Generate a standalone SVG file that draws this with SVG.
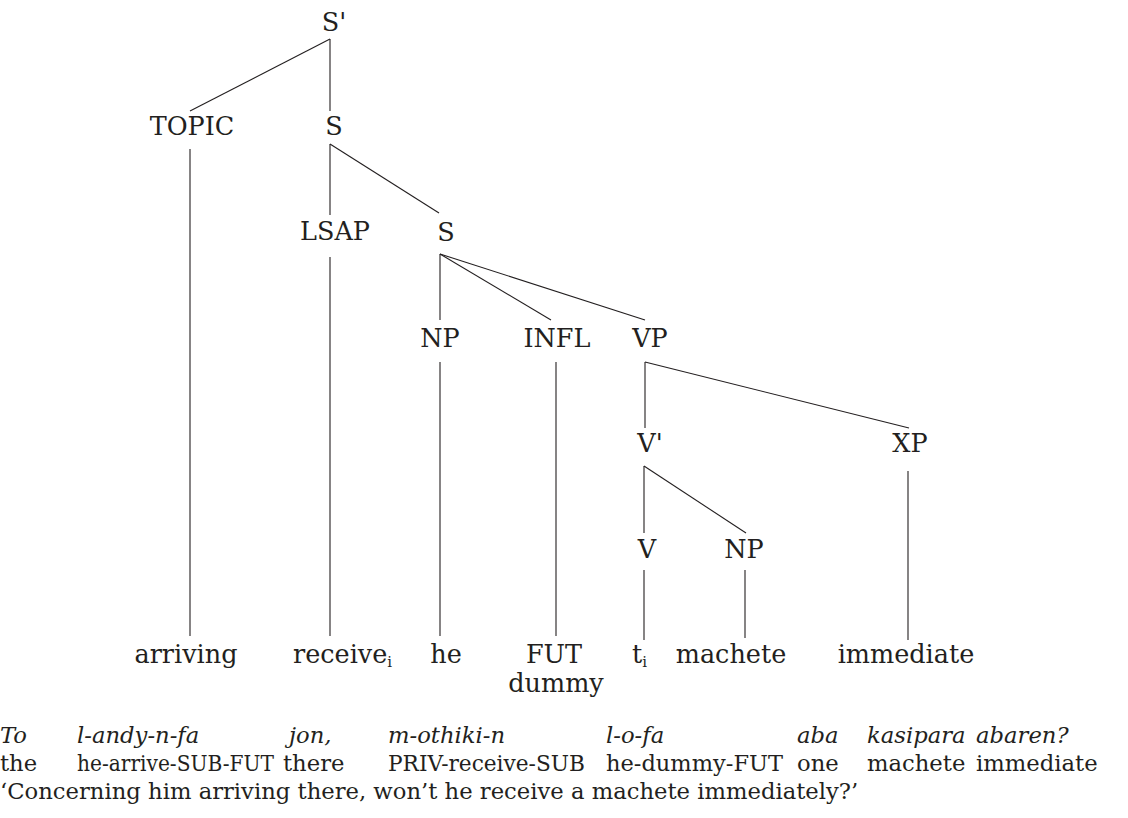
<svg xmlns="http://www.w3.org/2000/svg" width="1128" height="818" viewBox="0 0 1128 818">
<style>
.t{font-family:"DejaVu Serif","Liberation Serif",serif;font-size:25.5px;fill:#231f20;text-anchor:middle}
.l{font-family:"DejaVu Serif","Liberation Serif",serif;font-size:25.5px;fill:#231f20}
.g{font-family:"DejaVu Serif","Liberation Serif",serif;font-size:22.7px;fill:#231f20}
.i{font-style:italic}
.sub{font-size:15px}
#edges line{stroke:#231f20;stroke-width:1.1}
</style>
<rect width="1128" height="818" fill="#fff"/>
<g id="edges">
<line x1="330" y1="39" x2="190" y2="111"/>
<line x1="330" y1="39" x2="330" y2="111"/>
<line x1="190" y1="149" x2="190" y2="636"/>
<line x1="330" y1="144" x2="330" y2="215"/>
<line x1="330" y1="144" x2="439" y2="213"/>
<line x1="330" y1="257" x2="330" y2="636"/>
<line x1="440" y1="254" x2="440" y2="320"/>
<line x1="440" y1="254" x2="551" y2="320"/>
<line x1="440" y1="254" x2="645" y2="320"/>
<line x1="440" y1="362" x2="440" y2="636"/>
<line x1="556" y1="362" x2="556" y2="636"/>
<line x1="645" y1="362" x2="645" y2="428"/>
<line x1="645" y1="362" x2="909" y2="428"/>
<line x1="644" y1="466" x2="644" y2="533"/>
<line x1="644" y1="466" x2="746" y2="533"/>
<line x1="644" y1="570" x2="644" y2="640"/>
<line x1="745" y1="570" x2="745" y2="638"/>
<line x1="908" y1="471" x2="908" y2="640"/>
</g>
<g id="n-Sbar"><text class="t" x="334" y="31">S'</text></g>
<g id="n-TOPIC"><text class="t" x="192" y="135">TOPIC</text></g>
<g id="n-S1"><text class="t" x="334" y="135">S</text></g>
<g id="n-LSAP"><text class="t" x="335" y="240">LSAP</text></g>
<g id="n-S2"><text class="t" x="446" y="241">S</text></g>
<g id="n-NP1"><text class="t" x="440" y="347">NP</text></g>
<g id="n-INFL"><text class="t" x="557" y="347">INFL</text></g>
<g id="n-VP"><text class="t" x="650" y="347">VP</text></g>
<g id="n-Vbar"><text class="t" x="650" y="452">V'</text></g>
<g id="n-XP"><text class="t" x="910" y="452">XP</text></g>
<g id="n-V"><text class="t" x="647" y="558">V</text></g>
<g id="n-NP2"><text class="t" x="744" y="558">NP</text></g>
<g id="leaf-arriving"><text class="t" x="186" y="663">arriving</text></g>
<g id="leaf-receive"><text class="l" x="293" y="663">receive<tspan class="sub" dy="4">i</tspan></text></g>
<g id="leaf-he"><text class="t" x="446" y="663">he</text></g>
<g id="leaf-FUT"><text class="t" x="554" y="663">FUT</text><text class="t" x="556" y="692">dummy</text></g>
<g id="leaf-t"><text class="l" x="632" y="663">t<tspan class="sub" dy="4">i</tspan></text></g>
<g id="leaf-machete"><text class="t" x="731" y="663">machete</text></g>
<g id="leaf-immediate"><text class="t" x="906" y="663">immediate</text></g>
<g id="gloss">
<text class="g i" y="743"><tspan x="0">To</tspan><tspan x="77">l-andy-n-fa</tspan><tspan x="289">jon,</tspan><tspan x="388">m-othiki-n</tspan><tspan x="606">l-o-fa</tspan><tspan x="797">aba</tspan><tspan x="867">kasipara</tspan><tspan x="976">abaren?</tspan></text>
<text class="g" y="771"><tspan x="0">the</tspan><tspan x="77" textLength="197" lengthAdjust="spacingAndGlyphs">he-arrive-SUB-FUT</tspan><tspan x="283">there</tspan><tspan x="388" textLength="197" lengthAdjust="spacingAndGlyphs">PRIV-receive-SUB</tspan><tspan x="606" textLength="177" lengthAdjust="spacingAndGlyphs">he-dummy-FUT</tspan><tspan x="797">one</tspan><tspan x="867">machete</tspan><tspan x="976">immediate</tspan></text>
<text class="g" x="0" y="799">‘Concerning him arriving there, won’t he receive a machete immediately?’</text>
</g>
</svg>
